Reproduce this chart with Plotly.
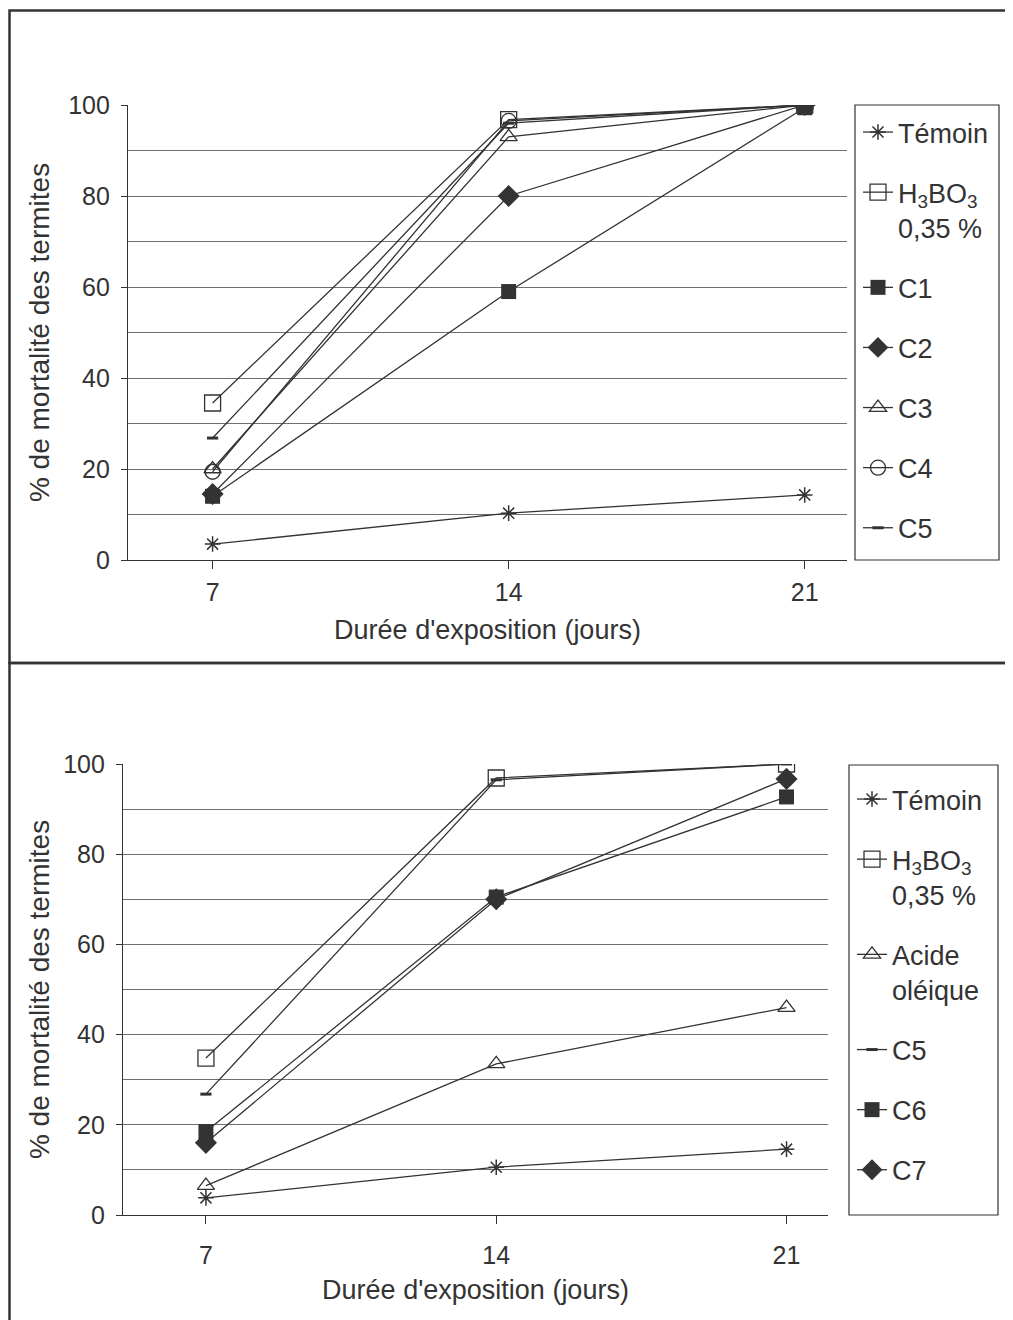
import plotly.graph_objects as go

# ---------------- data ----------------
jours = [7, 14, 21]
x_ticks = [7, 14, 21]
y_ticks = [0, 20, 40, 60, 80, 100]

# top panel
temoin_a = [3.5, 10.3, 14.3]
h3bo3_a = [34.5, 96.8, 100]
c1_a = [14, 59, 99.4]
c2_a = [14.5, 80, 100]
c3_a = [20, 93, 100]
c4_a = [19.4, 96.5, 100]
c5_a = [26.8, 96, 100]

# bottom panel
temoin_b = [3.8, 10.6, 14.6]
h3bo3_b = [34.8, 96.9, 100]
acide_b = [6.5, 33.5, 46]
c5_b = [26.8, 96.5, 100]
c6_b = [18.5, 70.5, 92.7]
c7_b = [16, 70, 96.7]

# the page body has an 8 px margin: figure size and positions are in figure pixels
W, H = 1005, 1312
DARK = "#333333"
FONT = "Liberation Sans, Arial, sans-serif"

def px(x):
    return x / W

def py(y):
    return 1 - y / H

fig = go.Figure()

styles = {
    "temoin": dict(symbol="asterisk-open", size=13, color=DARK, line=dict(width=1.5, color=DARK)),
    "h3bo3": dict(symbol="square-open", size=16, color=DARK, line=dict(width=1.3, color=DARK)),
    "sqf": dict(symbol="square", size=15, color=DARK, line=dict(width=0, color=DARK)),
    "dia": dict(symbol="diamond", size=17, color=DARK, line=dict(width=0, color=DARK)),
    "tri": dict(symbol="triangle-up-open", size=15, color=DARK, line=dict(width=1.3, color=DARK)),
    "cir": dict(symbol="circle-open", size=15, color=DARK, line=dict(width=1.3, color=DARK)),
    "dash": dict(symbol="line-ew-open", size=8, color=DARK, line=dict(width=3, color=DARK)),
}

H3 = "H<sub>3</sub>BO<sub>3</sub><br>0,35 %"

top_series = [
    ("Témoin", temoin_a, "temoin"),
    (H3, h3bo3_a, "h3bo3"),
    ("C1", c1_a, "sqf"),
    ("C2", c2_a, "dia"),
    ("C3", c3_a, "tri"),
    ("C4", c4_a, "cir"),
    ("C5", c5_a, "dash"),
]
bot_series = [
    ("Témoin", temoin_b, "temoin"),
    (H3, h3bo3_b, "h3bo3"),
    ("Acide<br>oléique", acide_b, "tri"),
    ("C5", c5_b, "dash"),
    ("C6", c6_b, "sqf"),
    ("C7", c7_b, "dia"),
]

for i, (name, vals, st) in enumerate(top_series):
    fig.add_trace(go.Scatter(
        x=jours, y=vals, name=name, mode="lines+markers",
        line=dict(color=DARK, width=1.3), marker=styles[st],
        xaxis="x", yaxis="y", legend="legend", legendgroup=f"a{i}",
    ))
for i, (name, vals, st) in enumerate(bot_series):
    fig.add_trace(go.Scatter(
        x=jours, y=vals, name=name, mode="lines+markers",
        line=dict(color=DARK, width=1.3), marker=styles[st],
        xaxis="x2", yaxis="y2", legend="legend2", legendgroup=f"b{i}",
    ))

def xaxis(dom, anchor, labstand, titlestand):
    return dict(
        domain=dom, anchor=anchor, range=[5, 22], tickvals=x_ticks,
        showgrid=False, zeroline=False, showline=True, linecolor=DARK, linewidth=1.3,
        ticks="outside", ticklen=8, tickcolor=DARK, tickwidth=1, ticklabelstandoff=labstand,
        tickfont=dict(size=25, color=DARK, family=FONT),
        title=dict(text="Durée d'exposition (jours)", font=dict(size=27, color=DARK, family=FONT),
                   standoff=titlestand),
        automargin=False,
    )

def yaxis(dom, anchor, titlestand):
    return dict(
        domain=dom, anchor=anchor, range=[0, 100], tickvals=y_ticks,
        showgrid=True, gridcolor="#707070", gridwidth=1,
        minor=dict(tickvals=[10, 30, 50, 70, 90], showgrid=True, gridcolor="#707070", gridwidth=1),
        zeroline=False, showline=True, linecolor=DARK, linewidth=1.3,
        ticks="outside", ticklen=6, tickcolor=DARK, tickwidth=1, ticklabelstandoff=6,
        tickfont=dict(size=25, color=DARK, family=FONT),
        title=dict(text="% de mortalité des termites", font=dict(size=28, color=DARK, family=FONT),
                   standoff=titlestand),
        automargin=False,
    )

legend_common = dict(
    bgcolor="rgba(0,0,0,0)", borderwidth=0, font=dict(size=27, color=DARK, family=FONT),
    tracegroupgap=22, valign="top", xanchor="left", yanchor="top", itemwidth=30,
)

fig.update_layout(
    width=W, height=H, margin=dict(l=0, r=0, t=0, b=0),
    paper_bgcolor="white", plot_bgcolor="white",
    font=dict(family=FONT, color=DARK),
    xaxis=xaxis([px(120), px(839)], "y", 2, 14),
    yaxis=yaxis([py(552), py(97)], "x", 10),
    xaxis2=xaxis([px(115), px(820)], "y2", 10, 11),
    yaxis2=yaxis([py(1207), py(756)], "x2", 5),
    legend=dict(x=px(850), y=py(100), **legend_common),
    legend2=dict(x=px(844), y=py(767), **legend_common),
    showlegend=True,
    shapes=[
        # panel frames
        dict(type="rect", xref="paper", yref="paper", x0=px(1.5), x1=1.02, y0=py(655), y1=py(2.5),
             line=dict(color=DARK, width=2.5)),
        dict(type="rect", xref="paper", yref="paper", x0=px(1.5), x1=1.02, y0=-0.02, y1=py(655),
             line=dict(color=DARK, width=2.5)),
        # legend frames
        dict(type="rect", xref="paper", yref="paper", x0=px(847), x1=px(991), y0=py(552), y1=py(97),
             line=dict(color=DARK, width=1.2)),
        dict(type="rect", xref="paper", yref="paper", x0=px(841), x1=px(990), y0=py(1207), y1=py(757),
             line=dict(color=DARK, width=1.2)),
    ],
)

fig.write_html("out.html")
